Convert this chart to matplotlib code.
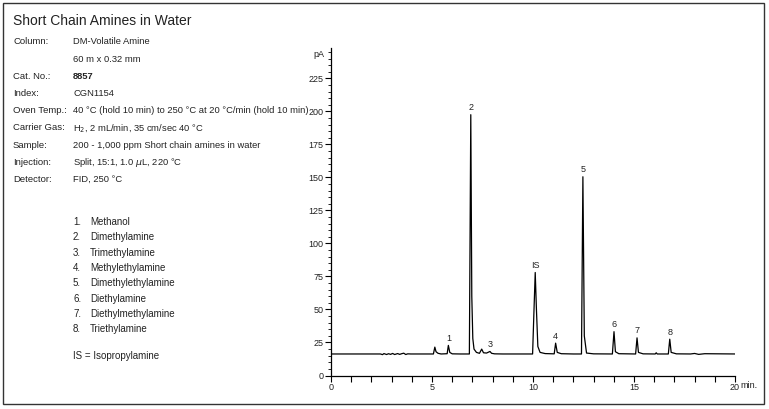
import matplotlib
matplotlib.use("Agg")
import matplotlib.pyplot as plt
from matplotlib.patches import Rectangle

plt.rcParams['font.family'] = ['Liberation Sans', 'DejaVu Sans']

# chromatogram trace (min, pA)
trace_min = [0, 2.45, 2.55, 2.62, 2.75, 2.85, 2.95, 3.05, 3.15, 3.3, 3.4, 3.5, 3.6, 3.7, 3.8, 3.95,
             5.07, 5.14, 5.2, 5.3, 5.45, 5.75, 5.81, 5.88, 6.0, 6.4, 6.85, 6.92, 6.97, 7.02, 7.08,
             7.2, 7.35, 7.46, 7.55, 7.7, 7.87, 7.95, 8.1, 8.5, 9.98, 10.05, 10.11, 10.17, 10.24,
             10.35, 10.6, 11.05, 11.12, 11.2, 11.4, 12.0, 12.4, 12.47, 12.54, 12.65, 13.0, 13.93,
             14.01, 14.08, 14.25, 15.08, 15.15, 15.22, 15.45, 16.05, 16.1, 16.15, 16.7, 16.77,
             16.84, 17.1, 17.8, 18.0, 18.2, 18.5, 20.05]
trace_pA = [16.3, 16.3, 15.8, 16.6, 15.9, 16.5, 16.0, 16.7, 15.9, 16.6, 16.0, 16.5, 16.9, 15.9, 16.4, 16.3,
            16.3, 21.5, 18.0, 16.8, 16.3, 16.5, 22.8, 17.5, 16.4, 16.3, 16.3, 197.5, 60.0, 28.0, 20.0,
            17.5, 16.8, 20.0, 17.2, 17.0, 18.2, 16.8, 16.4, 16.3, 16.3, 50.0, 78.0, 50.0, 22.0,
            17.5, 16.6, 16.4, 24.5, 17.5, 16.5, 16.3, 16.3, 150.5, 30.0, 17.0, 16.4, 16.3,
            33.2, 18.0, 16.5, 16.3, 28.5, 17.5, 16.4, 16.3, 17.2, 16.3, 16.3, 27.5,
            17.5, 16.4, 16.3, 16.7, 16.0, 16.5, 16.3]

peak_names = ['1', '2', '3', 'IS', '4', '5', '6', '7', '8']
peak_min = [5.81, 6.92, 7.87, 10.11, 11.12, 12.47, 14.01, 15.15, 16.77]
peak_top = [22.8, 197.5, 18.2, 78.0, 24.5, 150.5, 33.2, 28.5, 27.5]

info_keys = ['Column:', '', 'Cat. No.:', 'Index:', 'Oven Temp.:', 'Carrier Gas:', 'Sample:',
             'Injection:', 'Detector:']
info_vals = ['DM-Volatile Amine', '60 m x 0.32 mm', '8857', 'CGN1154',
             '40 °C (hold 10 min) to 250 °C at 20 °C/min (hold 10 min)',
             r'H$_2$, 2 mL/min, 35 cm/sec 40 °C', '200 - 1,000 ppm Short chain amines in water',
             r'Split, 15:1, 1.0 $\mu$L, 220 °C', 'FID, 250 °C']
compounds = ['Methanol', 'Dimethylamine', 'Trimethylamine', 'Methylethylamine',
             'Dimethylethylamine', 'Diethylamine', 'Diethylmethylamine', 'Triethylamine']

W, H = 769, 409
fig = plt.figure(figsize=(W / 100, H / 100), dpi=100)
txt = '#222222'

def fx(px):
    return px / W

def fy(py):
    return 1 - py / H

fig.patches.append(Rectangle((fx(3), fy(404)), fx(761), 401 / H, transform=fig.transFigure,
                             fill=False, edgecolor='#333333', lw=1.0))

fig.text(fx(13), fy(21), 'Short Chain Amines in Water', fontsize=10, color=txt, va='center')
for i, (k, v) in enumerate(zip(info_keys, info_vals)):
    y = fy(42 + i * 17.2)
    fig.text(fx(13), y, k, fontsize=6.8, color=txt, va='center')
    fig.text(fx(73), y, v, fontsize=6.75, color=txt, va='center',
             weight='bold' if k == 'Cat. No.:' else 'normal')
for i, c in enumerate(compounds):
    y = fy(222 + i * 15.3)
    fig.text(fx(73), y, f'{i + 1}.', fontsize=7, color=txt, va='center')
    fig.text(fx(90), y, c, fontsize=7, color=txt, va='center')
fig.text(fx(73), fy(356), 'IS = Isopropylamine', fontsize=7, color=txt, va='center')

ax = fig.add_axes([fx(331), fy(375.5), fx(735 - 331), (375.5 - 48) / H])
ax.plot(trace_min, trace_pA, color='black', lw=0.9)
for n, t, h in zip(peak_names, peak_min, peak_top):
    ax.text(t, h + 2, n, fontsize=6.5, ha='center', va='bottom', color=txt)

ax.set_xlim(0, 20)
ax.set_ylim(0, 248)
ax.set_xticks([0, 5, 10, 15, 20])
ax.set_xticks(range(21), minor=True)
ax.set_yticks(range(0, 226, 25))
ax.set_yticks(range(0, 246, 5), minor=True)
ax.tick_params(axis='both', labelsize=6.5, colors='black', labelcolor=txt, length=4, width=0.8, pad=1.5)
ax.tick_params(axis='x', which='minor', length=4, width=0.8)
ax.tick_params(axis='y', which='minor', length=2, width=0.6)
ax.text(20.25, -4, 'min.', fontsize=6.5, color=txt, ha='left', va='top', clip_on=False)
ax.text(-0.35, 243, 'pA', fontsize=6.5, color=txt, ha='right', va='center')
for s in ['top', 'right']:
    ax.spines[s].set_visible(False)
for s in ['left', 'bottom']:
    ax.spines[s].set_linewidth(0.9)

fig.savefig('out.png', dpi=100)
